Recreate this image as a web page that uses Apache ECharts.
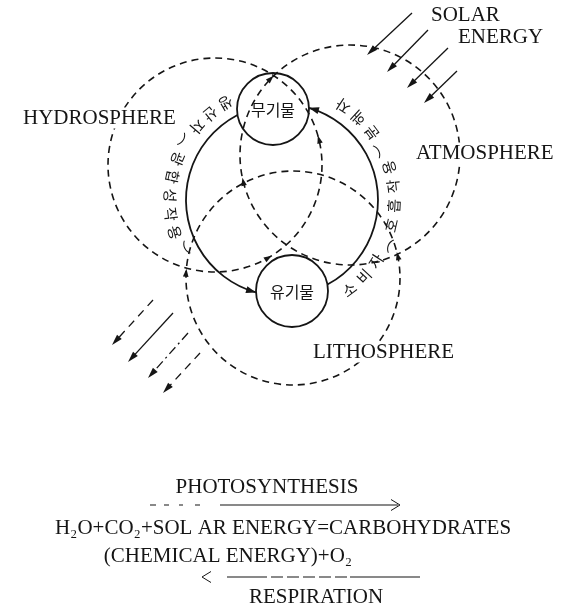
<!DOCTYPE html>
<html>
<head>
<meta charset="utf-8">
<script src="https://cdn.jsdelivr.net/npm/echarts@6/dist/echarts.min.js"></script>
<style>
  html, body { margin: 0; padding: 0; background: #fff; }
  #main { width: 569px; height: 609px; }
</style>
</head>
<body>
<div id="main"></div>
<script>
// diagram units: x to the right, y downwards, same size as the figure
const sphereNames = ['HYDROSPHERE', 'ATMOSPHERE', 'LITHOSPHERE']
const sphereCenters = [[215, 165], [350, 155], [293, 278]]
const sphereRadii = [107, 110, 107]
const sphereLabelAt = [[20, 118], [413, 153], [310, 352]]
// little flow marks on the spheres: [sphere, angle in degrees, +1 / -1 direction]
const sphereMarks = [[0, -16, -1], [0, 58, -1], [1, 168, 1], [1, 226, 1], [2, -14, -1], [2, 185, 1]]

const poolNames = ['무기물', '유기물']
const poolCenters = [[273, 109], [292, 291]]
const poolRadii = [36, 36]

// cycle between the two pools: [from pool, to pool]
const cycleCenter = [282, 200]
const cycleRadius = 96
const cycleFlows = [[0, 1], [1, 0]]
const cycleLabels = ['생산자︵광합성작용︶', '소비자︵호흡작용︶분해자']
const cycleLabelStart = [240, 53] // degrees, clockwise from 3 o'clock
const cycleLabelStep = [9.6, 10]

const solarArrows = [[412, 13, 367, 55], [428, 30, 387, 72], [448, 48, 407, 88], [457, 71, 424, 103]]
const solarLabels = ['SOLAR', 'ENERGY']
const solarLabelAt = [[428, 15], [455, 37]]
const lostArrows = [[153, 300, 112, 345], [173, 313, 128, 362], [188, 333, 148, 378], [200, 353, 163, 393]]

const reactionLabels = ['PHOTOSYNTHESIS', 'H₂O+CO₂+SOL AR ENERGY=CARBOHYDRATES', '(CHEMICAL ENERGY)+O₂', 'RESPIRATION']
const reactionLabelAt = [[267, 487], [283, 528], [228, 556], [316, 597]]
const reactionArrows = [[150, 505, 400, 505], [420, 577, 202, 577]]

const W = 569
const H = 609
const ink = '#151515'
const serif = '"Liberation Serif", "DejaVu Serif", serif'
const cjk = '"Noto Sans CJK KR", sans-serif'
const rad = d => d * Math.PI / 180

function headPoints(tip, ang, len, half) {
  const bx = tip[0] - Math.cos(ang) * len
  const by = tip[1] - Math.sin(ang) * len
  const nx = -Math.sin(ang) * half
  const ny = Math.cos(ang) * half
  return [tip, [bx + nx, by + ny], [bx - nx, by - ny]]
}

// where the cycle circle enters a pool circle (two angles)
function meetAngles(p) {
  const dx = poolCenters[p][0] - cycleCenter[0]
  const dy = poolCenters[p][1] - cycleCenter[1]
  const d = Math.hypot(dx, dy)
  const a = Math.atan2(dy, dx)
  const b = Math.acos((d * d + cycleRadius * cycleRadius - poolRadii[p] * poolRadii[p]) / (2 * d * cycleRadius))
  return [a - b, a + b]
}

const arcChars = []
cycleLabels.forEach((s, k) => {
  Array.from(s).forEach((ch, i) => {
    const t = cycleLabelStart[k] - i * cycleLabelStep[k]
    arcChars.push({ ch, t, value: [cycleCenter[0] + (cycleRadius + 16) * Math.cos(rad(t)), cycleCenter[1] + (cycleRadius + 16) * Math.sin(rad(t))] })
  })
})

// styles per arrow
const lostDash = [[8, 6], null, [9, 4, 2, 4], [8, 6]]
const reactionDash = [[6, 8, 5, 10, 4, 12, 5, 20, 400], [70, 3, 12, 4, 12, 4, 12, 4, 12, 4, 12, 4, 40]]
const reactionGap = [2, 24]

function arrowLine(api, filled, dash, gap) {
  const a = api.coord([api.value(0), api.value(1)])
  const b = api.coord([api.value(2), api.value(3)])
  const ang = Math.atan2(b[1] - a[1], b[0] - a[0])
  const head = headPoints(b, ang, 9, 5.5)
  return {
    type: 'group',
    children: [
      { type: 'line', shape: { x1: a[0], y1: a[1], x2: b[0] - Math.cos(ang) * gap, y2: b[1] - Math.sin(ang) * gap },
        style: { stroke: ink, lineWidth: filled ? 1.3 : 1.1, lineDash: dash } },
      filled
        ? { type: 'polygon', shape: { points: headPoints(b, ang, 11, 3.2) }, style: { fill: ink } }
        : { type: 'polyline', shape: { points: [head[1], b, head[2]] }, style: { stroke: ink, lineWidth: 1, fill: 'none' } }
    ]
  }
}

const chart = echarts.init(document.getElementById('main'))

chart.setOption({
  animation: false,
  backgroundColor: '#fff',
  grid: { left: 0, right: 0, top: 0, bottom: 0 },
  xAxis: { type: 'value', min: 0, max: W, show: false },
  yAxis: { type: 'value', min: 0, max: H, inverse: true, show: false },
  series: [
    {
      // dashed spheres
      type: 'custom', clip: false, z: 2,
      data: sphereCenters.map((c, i) => [c[0], c[1], sphereRadii[i]]),
      renderItem(params, api) {
        const c = api.coord([api.value(0), api.value(1)])
        const r = api.size([api.value(2), 0])[0]
        return { type: 'circle', shape: { cx: c[0], cy: c[1], r },
          style: { fill: 'none', stroke: ink, lineWidth: 1.6, lineDash: [7, 5] } }
      }
    },
    {
      // flow marks on the spheres
      type: 'custom', clip: false, z: 3,
      data: sphereMarks.map(m => [sphereCenters[m[0]][0], sphereCenters[m[0]][1], sphereRadii[m[0]], m[1], m[2]]),
      renderItem(params, api) {
        const c = api.coord([api.value(0), api.value(1)])
        const r = api.size([api.value(2), 0])[0]
        const t = rad(api.value(3))
        const tip = [c[0] + r * Math.cos(t), c[1] + r * Math.sin(t)]
        const dir = t + api.value(4) * Math.PI / 2
        return { type: 'polygon', shape: { points: headPoints(tip, dir, 8, 2.8) }, style: { fill: ink } }
      }
    },
    {
      // solid cycle arcs
      type: 'custom', clip: false, z: 3,
      data: cycleFlows,
      renderItem(params, api) {
        const from = api.value(0)
        const to = api.value(1)
        const c = api.coord(cycleCenter)
        const r = api.size([cycleRadius, 0])[0]
        // travel runs anticlockwise on screen
        const start = meetAngles(to)[1]
        let end = meetAngles(from)[0]
        while (end < start) end += Math.PI * 2
        const tip = [c[0] + r * Math.cos(start), c[1] + r * Math.sin(start)]
        return {
          type: 'group',
          children: [
            { type: 'arc', shape: { cx: c[0], cy: c[1], r, startAngle: start, endAngle: end, clockwise: true },
              style: { fill: 'none', stroke: ink, lineWidth: 1.8 } },
            { type: 'polygon', shape: { points: headPoints(tip, start - Math.PI / 2, 10, 3.5) }, style: { fill: ink } }
          ]
        }
      }
    },
    {
      // pools
      type: 'custom', clip: false, z: 4,
      data: poolCenters.map((c, i) => [c[0], c[1], poolRadii[i]]),
      renderItem(params, api) {
        const c = api.coord([api.value(0), api.value(1)])
        const r = api.size([api.value(2), 0])[0]
        return {
          type: 'group',
          children: [
            { type: 'circle', shape: { cx: c[0], cy: c[1], r }, style: { fill: 'none', stroke: ink, lineWidth: 1.8 } },
            { type: 'text', x: c[0], y: c[1] + 1,
              style: { text: poolNames[params.dataIndex], fill: ink, font: '16px ' + cjk, align: 'center', verticalAlign: 'middle' } }
          ]
        }
      }
    },
    {
      // text running along the cycle
      type: 'custom', clip: false, z: 5,
      data: arcChars.map(d => d.value),
      renderItem(params, api) {
        const p = api.coord([api.value(0), api.value(1)])
        const t = rad(arcChars[params.dataIndex].t)
        return { type: 'text', x: p[0], y: p[1], rotation: -Math.atan2(-Math.cos(t), Math.sin(t)),
          style: { text: arcChars[params.dataIndex].ch, fill: ink, font: '15px ' + cjk, align: 'center', verticalAlign: 'middle' } }
      }
    },
    {
      // incoming solar energy
      type: 'custom', clip: false, z: 5,
      data: solarArrows,
      renderItem: (params, api) => arrowLine(api, true, null, 6)
    },
    {
      // energy leaving the system
      type: 'custom', clip: false, z: 5,
      data: lostArrows,
      renderItem: (params, api) => arrowLine(api, true, lostDash[params.dataIndex], 6)
    },
    {
      // photosynthesis / respiration arrows
      type: 'custom', clip: false, z: 5,
      data: reactionArrows,
      renderItem: (params, api) => arrowLine(api, false, reactionDash[params.dataIndex], reactionGap[params.dataIndex])
    },
    {
      // sphere and solar names
      type: 'custom', clip: false, z: 6,
      data: sphereLabelAt.concat(solarLabelAt),
      renderItem(params, api) {
        const p = api.coord([api.value(0), api.value(1)])
        const text = sphereNames.concat(solarLabels)[params.dataIndex]
        return { type: 'text', x: p[0], y: p[1],
          style: { text, fill: ink, font: '21px ' + serif, align: 'left', verticalAlign: 'middle',
            backgroundColor: '#fff', padding: [0, 3] } }
      }
    },
    {
      // equation block
      type: 'custom', clip: false, z: 6,
      data: reactionLabelAt,
      renderItem(params, api) {
        const p = api.coord([api.value(0), api.value(1)])
        return { type: 'text', x: p[0], y: p[1],
          style: { text: reactionLabels[params.dataIndex], fill: ink, font: '21px ' + serif, align: 'center', verticalAlign: 'middle' } }
      }
    }
  ]
})
</script>
</body>
</html>
